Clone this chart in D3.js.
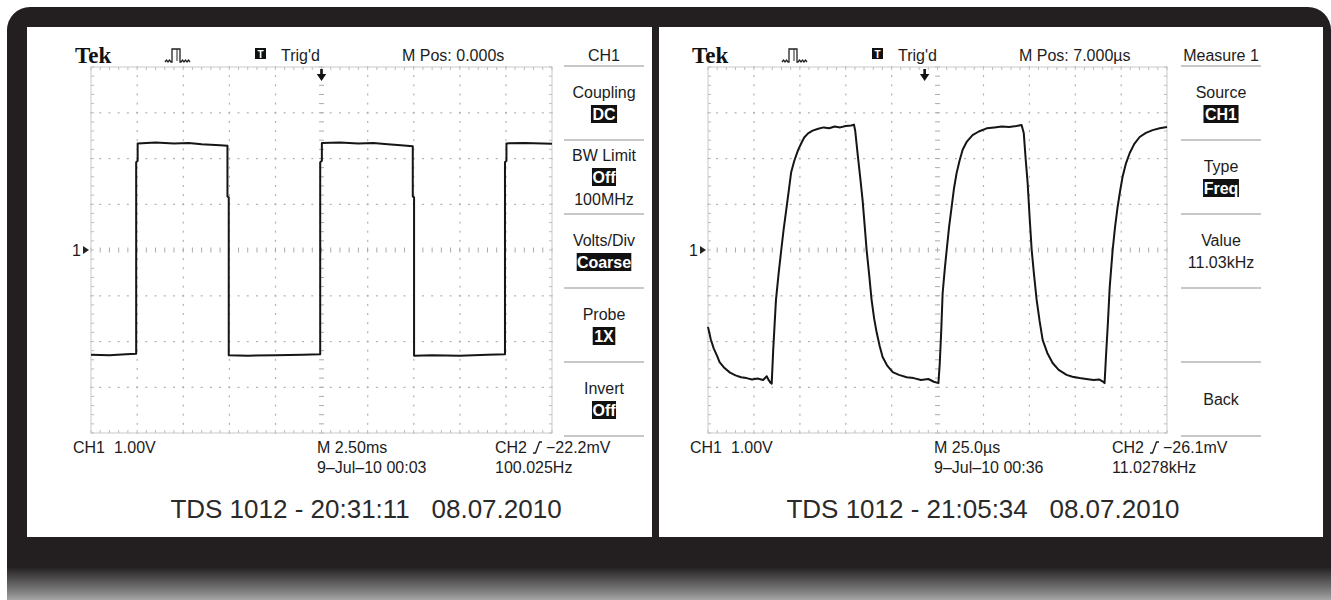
<!DOCTYPE html>
<html><head><meta charset="utf-8">
<script src="https://cdn.jsdelivr.net/npm/d3@7"></script>
<style>
html,body{margin:0;padding:0;background:#fff;}
svg{display:block;}
text{font-family:'Liberation Sans',Arial,sans-serif;fill:#1c1c1c;white-space:pre;}
</style></head><body>
<svg id="c" width="1331" height="600"></svg>
<script>
// ---------- DATA ----------
// Left screen: 100 Hz square wave, CH1 (time in ms, volts)
const sqTimeMs = [-12.5,-11.5,-10.6,-10.05,-10.05,-9.97,-9.97,-9.0,-8.0,-7.2,-6.5,-6.0,-5.5,-5.1,-5.1,-5.03,-5.03,-4.0,-2.5,-1.0,-0.07,-0.07,0.02,0.02,1.0,2.0,2.8,3.6,4.3,4.95,4.95,5.02,5.02,6.0,7.5,9.0,9.95,9.95,10.03,10.03,11.0,12.0,12.5];
const sqVolts  = [-2.29,-2.30,-2.28,-2.27,1.92,1.95,2.33,2.35,2.33,2.34,2.31,2.30,2.29,2.28,1.17,1.15,-2.30,-2.31,-2.30,-2.29,-2.28,1.92,1.95,2.34,2.35,2.33,2.34,2.31,2.29,2.27,1.17,1.15,-2.31,-2.30,-2.31,-2.29,-2.28,1.92,1.95,2.33,2.34,2.33,2.32];
// Right screen: 11.03 kHz RC-shaped wave, CH1 (time in µs, volts)
const rcTimeUs = [-118,-116.5,-114.9,-113,-111.7,-109,-106,-103,-100,-97,-94,-91,-88,-86,-85,-84,-83.3,
  -82.5,-81.0,-79.5,-78.1,-76.8,-75.4,-74.0,-72.7,-71.0,-68.9,-67.0,-65.6,-63.5,-61.0,-58,-55,-52,-49,-46,-43,-40,-38.5,
  -37.8,-36.5,-35,-33.8,-32.6,-31.6,-30.2,-28.9,-27.5,-26.1,-24.5,-22.9,-20.5,-17.4,-14,-9.8,-6,-2,2,5,7.5,
  8.2,9.0,9.8,11.0,12.0,13.3,14.7,16.0,17.4,19.0,20.7,23.0,26.1,29.5,33.8,38,42,46,50,52.8,
  54.0,55.0,56.1,57.2,58.3,59.6,61.0,62.6,64.3,66.8,69.7,73,77.3,80.5,84.4,88,92,95,97.3,98.0,
  98.8,99.8,100.8,102.4,103.7,105.1,106.5,107.8,109.7,111.7,114.2,117.1,120.5,124.2,128,132];
const rcVolts = [-1.68,-1.95,-2.15,-2.32,-2.45,-2.58,-2.68,-2.74,-2.78,-2.80,-2.83,-2.81,-2.84,-2.76,-2.84,-2.90,-2.92,
  -2.2,-1.1,-0.5,0.0,0.45,0.87,1.30,1.70,1.95,2.19,2.35,2.46,2.55,2.61,2.65,2.68,2.66,2.70,2.68,2.71,2.72,2.74,
  2.6,2.1,1.55,1.09,0.5,0.0,-0.55,-1.09,-1.50,-1.81,-2.10,-2.34,-2.52,-2.67,-2.73,-2.78,-2.80,-2.84,-2.82,-2.88,-2.91,
  -2.5,-1.8,-0.94,-0.4,0.0,0.5,0.94,1.35,1.68,1.95,2.19,2.37,2.51,2.59,2.66,2.68,2.70,2.69,2.71,2.73,
  2.55,2.0,1.46,0.7,0.0,-0.55,-1.09,-1.55,-1.97,-2.25,-2.47,-2.62,-2.73,-2.77,-2.80,-2.82,-2.84,-2.83,-2.88,-2.91,
  -2.3,-1.6,-0.81,0.0,0.5,0.94,1.30,1.60,1.90,2.12,2.32,2.47,2.56,2.62,2.66,2.69];

const divisionsX = 10, divisionsY = 8;
const voltRange = [-4, 4];
const leftTimeDomain = [-12.5, 12.5];   // 2.50 ms/div, M Pos 0.000 s
const rightTimeDomain = [-118, 132];    // 25.0 µs/div, M Pos 7.000 µs

const logoText = "Tek";
const trigText = "Trig'd";
const leftPosText = "M Pos: 0.000s";
const rightPosText = "M Pos: 7.000µs";
const leftMenuTitle = "CH1";
const rightMenuTitle = "Measure 1";

const leftMenuLines = [["Coupling","DC"],["BW Limit","Off","100MHz"],["Volts/Div","Coarse"],["Probe","1X"],["Invert","Off"]];
const leftMenuInverted = [[0,1],[0,1,0],[0,1],[0,1],[0,1]];
const rightMenuLines = [["Source","CH1"],["Type","Freq"],["Value","11.03kHz"],[],["Back"]];
const rightMenuInverted = [[0,1],[0,1],[0,0],[],[0]];

const leftBottom = ["CH1  1.00V","M 2.50ms","9\u2013Jul\u201310 00:03","CH2","\u221222.2mV","100.025Hz"];
const rightBottom = ["CH1  1.00V","M 25.0µs","9\u2013Jul\u201310 00:36","CH2","\u221226.1mV","11.0278kHz"];
const leftStamp = "TDS 1012 - 20:31:11   08.07.2010";
const rightStamp = "TDS 1012 - 21:05:34   08.07.2010";

// ---------- DRAW ----------
const svg = d3.select('#c');
const defs = svg.append('defs');
const grad = defs.append('linearGradient').attr('id','fg').attr('gradientUnits','userSpaceOnUse')
  .attr('x1',0).attr('y1',0).attr('x2',0).attr('y2',600);
grad.selectAll('stop').data([[0,'#231f20'],[0.945,'#231f20'],[0.985,'#7d7d7d'],[1,'#a5a5a5']])
  .join('stop').attr('offset',d=>d[0]).attr('stop-color',d=>d[1]);
svg.append('rect').attr('width',1331).attr('height',600).attr('fill','#fff');
svg.append('path').attr('d','M7,600V30A23,23 0 0 1 30,7H1308A23,23 0 0 1 1331,30V600Z').attr('fill','url(#fg)');

const panels = [
  {px0:27, px1:652, gx0:91, gx1:552, t:sqTimeMs, v:sqVolts, domain:leftTimeDomain, pos:leftPosText,
   title:leftMenuTitle, lines:leftMenuLines, inv:leftMenuInverted, bottom:leftBottom, stamp:leftStamp},
  {px0:659, px1:1323, gx0:708, gx1:1167, t:rcTimeUs, v:rcVolts, domain:rightTimeDomain, pos:rightPosText,
   title:rightMenuTitle, lines:rightMenuLines, inv:rightMenuInverted, bottom:rightBottom, stamp:rightStamp}
];
const gy0 = 67, gy1 = 433, py0 = 27, py1 = 537;

panels.forEach(p => {
  const g = svg.append('g');
  g.append('rect').attr('x',p.px0).attr('y',py0).attr('width',p.px1-p.px0).attr('height',py1-py0).attr('fill','#fff');

  const x = d3.scaleLinear().domain(p.domain).range([p.gx0, p.gx1]);
  const y = d3.scaleLinear().domain(voltRange).range([gy1, gy0]);
  const xd = d3.scaleLinear().domain([0, divisionsX]).range([p.gx0, p.gx1]);
  const yd = d3.scaleLinear().domain([0, divisionsY]).range([gy0, gy1]);
  const grid = g.append('g');
  const subX = d3.range(0, divisionsX*5+1).map(k=>k/5);
  const subY = d3.range(0, divisionsY*5+1).map(k=>k/5);
  // dotted interior graticule lines
  d3.range(1, divisionsX).filter(i=>i!==divisionsX/2).forEach(i=>{
    grid.selectAll(null).data(subY).join('rect')
      .attr('x', xd(i)-0.5).attr('y', d=>yd(d)-1).attr('width',1.2).attr('height',2).attr('fill','#b0b0b0');
  });
  d3.range(1, divisionsY).filter(j=>j!==divisionsY/2).forEach(j=>{
    grid.selectAll(null).data(subX).join('rect')
      .attr('x', d=>xd(d)-1).attr('y', yd(j)-0.5).attr('width',2).attr('height',1.2).attr('fill','#b0b0b0');
  });
  // center cross ticks
  grid.selectAll(null).data(subX).join('line')
    .attr('x1',d=>xd(d)).attr('x2',d=>xd(d)).attr('y1',yd(divisionsY/2)-2.5).attr('y2',yd(divisionsY/2)+2.5)
    .attr('stroke','#aaaaaa').attr('stroke-width',1);
  grid.selectAll(null).data(subY).join('line')
    .attr('y1',d=>yd(d)).attr('y2',d=>yd(d)).attr('x1',xd(divisionsX/2)-2.5).attr('x2',xd(divisionsX/2)+2.5)
    .attr('stroke','#aaaaaa').attr('stroke-width',1);
  // border + border ticks
  grid.append('rect').attr('x',p.gx0).attr('y',gy0).attr('width',p.gx1-p.gx0).attr('height',gy1-gy0)
    .attr('fill','none').attr('stroke','#d2d2d2').attr('stroke-width',1.2);
  grid.selectAll(null).data(subX).join('path')
    .attr('d',d=>`M${xd(d)},${gy0}v3M${xd(d)},${gy1}v-3`).attr('stroke','#bdbdbd').attr('stroke-width',1);
  grid.selectAll(null).data(subY).join('path')
    .attr('d',d=>`M${p.gx0},${yd(d)}h3M${p.gx1},${yd(d)}h-3`).attr('stroke','#bdbdbd').attr('stroke-width',1);

  // trace
  const pts = p.t.map((t,i)=>[t, p.v[i]]);
  g.append('path').datum(pts)
    .attr('d', d3.line().x(d=>x(d[0])).y(d=>y(d[1])))
    .attr('fill','none').attr('stroke','#151515').attr('stroke-width',2).attr('stroke-linejoin','round');

  // ground marker "1"
  g.append('text').attr('x',p.gx0-19).attr('y',y(0)+6).attr('font-size',16).text('1');
  g.append('path').attr('d',`M${p.gx0-8},${y(0)-4}l6,4l-6,4z`).attr('fill','#222');

  // trigger arrow
  const tx = x(0);
  g.append('path').attr('d',`M${tx-1.3},${gy0+2}h2.6v5h3.4l-4.7,7l-4.7,-7h3.4z`).attr('fill','#111');

  // header
  g.append('text').attr('x',p.gx0-16).attr('y',63)
    .style('font-family','"Liberation Serif","DejaVu Serif",serif')
    .attr('font-weight','bold').attr('font-size',23).style('fill','#111').text(logoText);
  const ix = p.gx0+74, by = 62;
  let ico = `M${ix},${by}`;
  [[1.5,-2],[1.5,2],[1.5,-2],[1.5,2]].forEach(s=>{ico+=`l${s[0]},${s[1]}`;});
  ico += `h1V${by-13}h8V${by}h1`;
  [[1.5,-2],[1.5,2],[1.5,-2],[1.5,2],[1.5,-2],[1.5,2]].forEach(s=>{ico+=`l${s[0]},${s[1]}`;});
  g.append('path').attr('d',ico).attr('fill','none').attr('stroke','#222').attr('stroke-width',1.3);
  g.append('path').attr('d',`M${ix+12},${by-13}v12`).attr('stroke','#222').attr('stroke-width',1);
  const tbx = p.gx0+164;
  g.append('rect').attr('x',tbx).attr('y',48).attr('width',11).attr('height',11).attr('fill','#111');
  g.append('text').attr('x',tbx+5.5).attr('y',57.5).attr('text-anchor','middle').attr('font-size',10)
    .attr('font-weight','bold').style('fill','#fff').text('T');
  g.append('text').attr('x',p.gx0+190).attr('y',61).attr('font-size',16).text(trigText);
  g.append('text').attr('x',p.gx0+311).attr('y',61).attr('font-size',16).text(p.pos);

  // menu
  const mc = p.gx0+513, mx0 = p.gx0+473, mx1 = p.gx0+553;
  g.append('text').attr('x',mc).attr('y',61).attr('text-anchor','middle').attr('font-size',16).text(p.title);
  d3.range(0,6).forEach(k=>{
    g.append('line').attr('x1',mx0).attr('x2',mx1).attr('y1',66+74*k).attr('y2',66+74*k)
      .attr('stroke','#c8c8c8').attr('stroke-width',2);
  });
  p.lines.forEach((lines,k)=>{
    const slotC = 66+74*k+37;
    const n = lines.length;
    lines.forEach((s,j)=>{
      const cy = slotC + (j-(n-1)/2)*22;
      const t = g.append('text').attr('x',mc).attr('y',cy+6).attr('text-anchor','middle').attr('font-size',16).text(s);
      if (p.inv[k][j]) {
        const w = t.node().getComputedTextLength();
        g.insert('rect', () => t.node()).attr('x',mc-w/2-1.5).attr('y',cy-9).attr('width',w+3).attr('height',18).attr('fill','#111');
        t.style('fill','#fff').attr('font-weight','bold');
      }
    });
  });

  // bottom readouts
  const b = p.bottom, r1 = 453, r2 = 473;
  g.append('text').attr('x',p.gx0-18).attr('y',r1).attr('font-size',16).text(b[0]);
  g.append('text').attr('x',p.gx0+226).attr('y',r1).attr('font-size',16).text(b[1]);
  g.append('text').attr('x',p.gx0+226).attr('y',r2).attr('font-size',16).text(b[2]);
  const c2 = g.append('text').attr('x',p.gx0+404).attr('y',r1).attr('font-size',16).text(b[3]);
  const sx = p.gx0+404 + c2.node().getComputedTextLength() + 6;
  g.append('path').attr('d',`M${sx},${r1}h2.5l4,-11h2.5`).attr('fill','none').attr('stroke','#1c1c1c').attr('stroke-width',1.3);
  g.append('text').attr('x',sx+13).attr('y',r1).attr('font-size',16).text(b[4]);
  g.append('text').attr('x',p.gx0+404).attr('y',r2).attr('font-size',16).text(b[5]);
  g.append('text').attr('x',p.gx0+275).attr('y',518).attr('text-anchor','middle').attr('font-size',26)
    .style('fill','#2a2a2a').text(p.stamp);
});
// divider between screens
svg.append('rect').attr('x',652).attr('y',27).attr('width',7).attr('height',510).attr('fill','#231f20');
</script>
</body></html>
